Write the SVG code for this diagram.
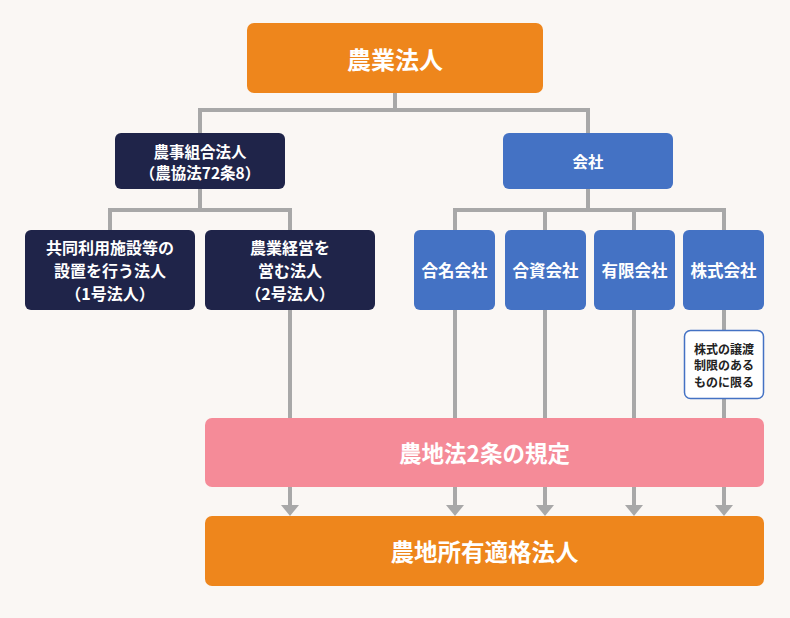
<svg xmlns="http://www.w3.org/2000/svg" width="790" height="618" viewBox="0 0 790 618">
<defs>
<style>
.t{font-family:"Noto Sans CJK JP","Noto Sans",sans-serif;font-weight:bold;fill:#fff;text-anchor:middle;dominant-baseline:central}
.d{fill:#222}
.ln{stroke:#A8A8A8;stroke-width:4;fill:none}
.navy{fill:#1F2449}
.blue{fill:#4472C4}
.orange{fill:#EE861C}
</style>
</defs>
<rect width="790" height="618" fill="#FAF7F4"/>
<g id="connectors">
<path class="ln" d="M395,93 V110 M200,110 H590 M200,108 V133 M588,108 V133"/>
<path class="ln" d="M200,189 V210 M110,210 H292 M110,208 V230 M290,208 V230"/>
<path class="ln" d="M588,189 V210 M455,210 H726 M455,208 V230 M545,208 V230 M634,208 V230 M724,208 V230"/>
<path class="ln" d="M290,310 V418 M455,310 V418 M545,310 V418 M634,310 V418 M724,310 V330 M724,399 V418"/>
<path class="ln" d="M290,487 V506 M455,487 V506 M545,487 V506 M634,487 V506 M724,487 V506"/>
<g fill="#A8A8A8">
<path d="M281,505 H299 L290,516 Z"/>
<path d="M446,505 H464 L455,516 Z"/>
<path d="M536,505 H554 L545,516 Z"/>
<path d="M625,505 H643 L634,516 Z"/>
<path d="M715,505 H733 L724,516 Z"/>
</g>
</g>
<g id="n-nogyo-hojin">
<rect class="orange" x="247" y="23" width="296" height="70" rx="7"/>
<text class="t" x="395" y="58" font-size="24">農業法人</text>
</g>
<g id="n-noji-kumiai">
<rect class="navy" x="115" y="133" width="170" height="56" rx="6"/>
<text class="t" x="200" y="151" font-size="15.5">農事組合法人</text>
<text class="t" x="200" y="172" font-size="15.5">（農協法72条8）</text>
</g>
<g id="n-kaisha">
<rect class="blue" x="503" y="133" width="170" height="56" rx="6"/>
<text class="t" x="588" y="161" font-size="15.5">会社</text>
</g>
<g id="n-1go">
<rect class="navy" x="25" y="230" width="170" height="80" rx="6"/>
<text class="t" x="110" y="247" font-size="16">共同利用施設等の</text>
<text class="t" x="110" y="270" font-size="16">設置を行う法人</text>
<text class="t" x="110" y="293" font-size="16">（1号法人）</text>
</g>
<g id="n-2go">
<rect class="navy" x="205" y="230" width="170" height="80" rx="6"/>
<text class="t" x="290" y="247" font-size="16">農業経営を</text>
<text class="t" x="290" y="270" font-size="16">営む法人</text>
<text class="t" x="290" y="293" font-size="16">（2号法人）</text>
</g>
<g id="n-gomei">
<rect class="blue" x="414" y="230" width="81" height="80" rx="6"/>
<text class="t" x="454.5" y="270" font-size="16.5">合名会社</text>
</g>
<g id="n-goshi">
<rect class="blue" x="505" y="230" width="81" height="80" rx="6"/>
<text class="t" x="545.5" y="270" font-size="16.5">合資会社</text>
</g>
<g id="n-yugen">
<rect class="blue" x="594" y="230" width="81" height="80" rx="6"/>
<text class="t" x="634.5" y="270" font-size="16.5">有限会社</text>
</g>
<g id="n-kabushiki">
<rect class="blue" x="683" y="230" width="81" height="80" rx="6"/>
<text class="t" x="723.5" y="270" font-size="16.5">株式会社</text>
</g>
<g id="n-note">
<rect x="684.5" y="330.5" width="79" height="68" rx="6" fill="#fff" stroke="#4472C4" stroke-width="1.5"/>
<text class="t d" x="724" y="348" font-size="12" style="fill:#222">株式の譲渡</text>
<text class="t d" x="724" y="364.5" font-size="12" style="fill:#222">制限のある</text>
<text class="t d" x="724" y="381" font-size="12" style="fill:#222">ものに限る</text>
</g>
<g id="n-nochiho">
<rect x="205" y="418" width="559" height="69" rx="7" fill="#F58B98"/>
<text class="t" x="484.5" y="452" font-size="22.5">農地法2条の規定</text>
</g>
<g id="n-tekikaku">
<rect class="orange" x="205" y="516" width="559" height="70" rx="7"/>
<text class="t" x="484.5" y="551" font-size="23.5">農地所有適格法人</text>
</g>
</svg>
